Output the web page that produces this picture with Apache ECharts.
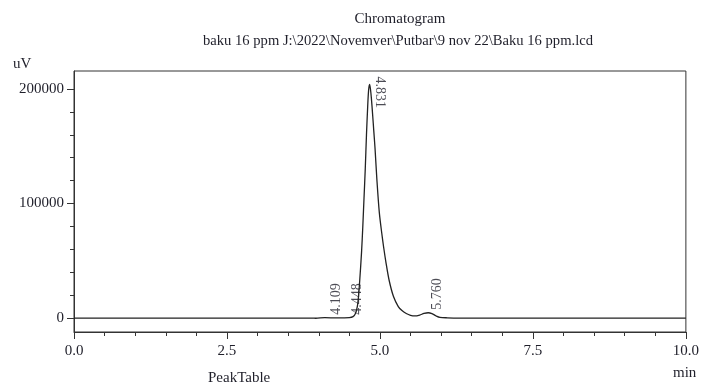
<!DOCTYPE html>
<html>
<head>
<meta charset="utf-8">
<script src="https://cdn.jsdelivr.net/npm/echarts@6/dist/echarts.min.js"></script>
<style>html,body{margin:0;padding:0;background:#fff}#c{width:702px;height:385px}</style>
</head>
<body>
<div id="c"></div>
<script>
// retention time (min)
var times = [0, 1, 2, 3, 3.9, 3.95, 4.1, 4.3, 4.5, 4.56, 4.6, 4.63, 4.65, 4.67, 4.7, 4.72, 4.74, 4.76, 4.78, 4.8, 4.815, 4.831, 4.845, 4.86, 4.88, 4.9, 4.92, 4.95, 4.99, 5.03, 5.06, 5.1, 5.15, 5.22, 5.3, 5.36, 5.43, 5.5, 5.57, 5.65, 5.72, 5.79, 5.85, 5.92, 5.98, 6.1, 6.3, 7, 8, 9, 10];
// detector signal (uV)
var signal = [0, 0, 0, 0, 0, -200, 300, 100, 300, 1200, 4000, 10000, 19000, 33000, 58000, 80000, 105000, 130000, 160000, 185000, 199000, 204000, 200000, 192000, 178000, 163000, 148000, 121000, 92000, 74000, 62000, 48000, 33000, 19000, 10000, 6500, 4000, 2400, 1800, 2600, 4000, 4600, 3800, 1800, 600, 200, 0, 0, 0, 0, 0];
// labelled peaks
var peakTimes = [4.109, 4.448, 5.760];
var peakHeights = [300, 300, 4600];
var mainPeakTime = [4.831];
var mainPeakHeight = [204000];
// ticks
var yMajorTicks = [0, 100000, 200000];
var yMinorTicks = [20000, 40000, 60000, 80000, 120000, 140000, 160000, 180000];

var FONT = 'Liberation Serif';
var TXT = '#1f1f2a';
var FS = 15;

var chart = echarts.init(document.getElementById('c'), null, {renderer: 'canvas'});
var yMin = -12200, yMax = 215700;

function ts(s) { return {fontFamily: FONT, fontSize: s || FS, fontWeight: 'normal', color: TXT}; }

chart.setOption({
  animation: false,
  backgroundColor: '#fff',
  textStyle: {fontFamily: FONT},
  title: [
    {text: 'Chromatogram', left: 395, top: 7, textAlign: 'center', textStyle: ts()},
    {text: 'baku 16 ppm J:\\2022\\Novemver\\Putbar\\9 nov 22\\Baku 16 ppm.lcd', left: 393, top: 29, textAlign: 'center', textStyle: ts(14.6)},
    {text: 'uV', left: 8, top: 52, textStyle: ts()},
    {text: 'PeakTable', left: 203, top: 366, textStyle: ts()},
    {text: 'min', left: 668, top: 361, textStyle: ts()}
  ],
  grid: {left: 74, right: 12, top: 71, bottom: 53, show: true, borderColor: '#333', borderWidth: 1, containLabel: false},
  xAxis: {
    type: 'value', min: 0, max: 10, interval: 2.5,
    axisLine: {show: true, onZero: false, lineStyle: {color: '#333', width: 1}},
    axisTick: {show: true, inside: false, length: 7, lineStyle: {color: '#333'}},
    minorTick: {show: true, splitNumber: 5, length: 4, lineStyle: {color: '#333'}},
    splitLine: {show: false},
    axisLabel: {margin: 12, fontFamily: FONT, fontSize: FS, color: TXT,
      formatter: function (v) { return v.toFixed(1); }}
  },
  yAxis: [
    {
      type: 'value', min: yMin, max: yMax, position: 'left',
      axisLine: {show: true, lineStyle: {color: '#333', width: 1}},
      axisTick: {show: true, inside: false, length: 7, customValues: yMajorTicks, lineStyle: {color: '#333'}},
      splitLine: {show: false},
      axisLabel: {show: true, margin: 10, customValues: yMajorTicks, fontFamily: FONT, fontSize: FS, color: TXT,
        formatter: function (v) { return String(v); }}
    },
    {
      type: 'value', min: yMin, max: yMax, position: 'left',
      axisLine: {show: false},
      axisTick: {show: true, inside: false, length: 4, customValues: yMinorTicks, lineStyle: {color: '#333'}},
      splitLine: {show: false},
      axisLabel: {show: false}
    }
  ],
  series: [
    {
      type: 'line', yAxisIndex: 0,
      data: times.map(function (t, i) { return [t, signal[i]]; }),
      showSymbol: false, smooth: 0.3,
      lineStyle: {color: '#222', width: 1.3},
      silent: true
    },
    {
      type: 'scatter', yAxisIndex: 0, symbolSize: 0, silent: true,
      data: peakTimes.map(function (t, i) { return [t, peakHeights[i]]; }),
      label: {show: true, position: 'inside', rotate: 90, align: 'left', verticalAlign: 'middle',
        offset: [3, 11], fontFamily: FONT, fontSize: 14, color: TXT,
        formatter: function (p) { return p.value[0].toFixed(3); }}
    },
    {
      type: 'scatter', yAxisIndex: 0, symbolSize: 0, silent: true,
      data: mainPeakTime.map(function (t, i) { return [t, mainPeakHeight[i]]; }),
      label: {show: true, position: 'inside', rotate: -90, align: 'left', verticalAlign: 'middle',
        offset: [-8, -10], fontFamily: FONT, fontSize: 14, color: TXT,
        formatter: function (p) { return p.value[0].toFixed(3); }}
    }
  ]
});
</script>
</body>
</html>
